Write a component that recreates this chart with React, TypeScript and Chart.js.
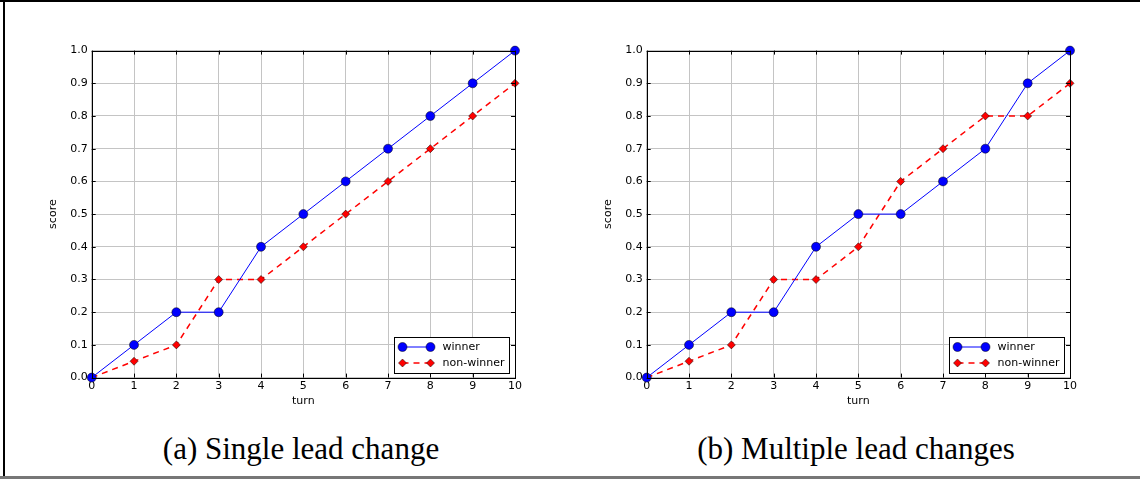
import React, { useEffect, useRef } from "react";
import { Chart, registerables } from "chart.js";

Chart.register(...registerables);

const turns = [0, 1, 2, 3, 4, 5, 6, 7, 8, 9, 10];
const winnerA = [0, 0.1, 0.2, 0.2, 0.4, 0.5, 0.6, 0.7, 0.8, 0.9, 1.0];
const nonWinnerA = [0, 0.05, 0.1, 0.3, 0.3, 0.4, 0.5, 0.6, 0.7, 0.8, 0.9];
const winnerB = [0, 0.1, 0.2, 0.2, 0.4, 0.5, 0.5, 0.6, 0.7, 0.9, 1.0];
const nonWinnerB = [0, 0.05, 0.1, 0.3, 0.3, 0.4, 0.6, 0.7, 0.8, 0.8, 0.9];
const seriesLabels = ["winner", "non-winner"];
const captionA = "(a) Single lead change";
const captionB = "(b) Multiple lead changes";
const xTitle = "turn";
const yTitle = "score";

const FONT = "'DejaVu Sans', sans-serif";

const framePlugin = {
  id: "frameAndLegend",
  afterDatasetsDraw(chart: any) {
    const { ctx, chartArea } = chart;
    const { left, right, top, bottom } = chartArea;
    const xs = chart.scales.x;
    const ys = chart.scales.y;
    ctx.save();
    ctx.strokeStyle = "#000";
    ctx.lineWidth = 1;
    ctx.beginPath();
    xs.ticks.forEach((t: any) => {
      const px = Math.round(xs.getPixelForValue(t.value)) + 0.5;
      ctx.moveTo(px, bottom);
      ctx.lineTo(px, bottom - 4);
      ctx.moveTo(px, top);
      ctx.lineTo(px, top + 4);
    });
    ys.ticks.forEach((t: any) => {
      const py = Math.round(ys.getPixelForValue(t.value)) + 0.5;
      ctx.moveTo(left, py);
      ctx.lineTo(left + 4, py);
      ctx.moveTo(right, py);
      ctx.lineTo(right - 4, py);
    });
    ctx.stroke();
    ctx.strokeRect(Math.round(left) + 0.5, Math.round(top) + 0.5, Math.round(right - left), Math.round(bottom - top));
    ctx.restore();
  },
  afterDraw(chart: any) {
    const { ctx, chartArea } = chart;
    const boxW = 115;
    const boxH = 36;
    const bx = Math.round(chartArea.right - 6 - boxW) + 0.5;
    const by = Math.round(chartArea.bottom - 5 - boxH) + 0.5;
    ctx.save();
    ctx.fillStyle = "#fff";
    ctx.fillRect(bx, by, boxW, boxH);
    ctx.strokeStyle = "#000";
    ctx.lineWidth = 1;
    ctx.strokeRect(bx, by, boxW, boxH);
    chart.data.datasets.forEach((ds: any, i: number) => {
      const y = by + 9.5 + i * 16;
      const x0 = bx + 8;
      const x1 = bx + 36;
      ctx.save();
      ctx.strokeStyle = ds.borderColor;
      ctx.lineWidth = ds.borderWidth;
      ctx.setLineDash(ds.borderDash || []);
      ctx.beginPath();
      ctx.moveTo(x0, y);
      ctx.lineTo(x1, y);
      ctx.stroke();
      ctx.restore();
      [x0, x1].forEach((mx) => {
        ctx.beginPath();
        const r = ds.pointRadius;
        if (ds.pointStyle === "rectRot") {
          ctx.moveTo(mx, y - r);
          ctx.lineTo(mx + r, y);
          ctx.lineTo(mx, y + r);
          ctx.lineTo(mx - r, y);
          ctx.closePath();
        } else {
          ctx.arc(mx, y, r, 0, Math.PI * 2);
        }
        ctx.fillStyle = ds.pointBackgroundColor;
        ctx.fill();
        ctx.strokeStyle = ds.pointBorderColor;
        ctx.lineWidth = ds.pointBorderWidth;
        ctx.stroke();
      });
      ctx.fillStyle = "#000";
      ctx.font = `11px ${FONT}`;
      ctx.textBaseline = "middle";
      ctx.textAlign = "left";
      ctx.fillText(ds.label, bx + 48, y);
    });
    ctx.restore();
  },
};

function ScoreChart({ winner, nonWinner }: { winner: number[]; nonWinner: number[] }) {
  const ref = useRef<HTMLCanvasElement>(null);
  useEffect(() => {
    if (!ref.current) return;
    const chart = new Chart(ref.current, {
      type: "line",
      data: {
        datasets: [
          {
            label: seriesLabels[0],
            data: turns.map((t, i) => ({ x: t, y: winner[i] })),
            borderColor: "#0000ff",
            borderWidth: 1,
            pointStyle: "circle",
            pointRadius: 4.5,
            pointBackgroundColor: "#0000ff",
            pointBorderColor: "#000",
            pointBorderWidth: 0.5,
            clip: false,
          } as any,
          {
            label: seriesLabels[1],
            data: turns.map((t, i) => ({ x: t, y: nonWinner[i] })),
            borderColor: "#ff0000",
            borderWidth: 1.5,
            borderDash: [6, 5],
            pointStyle: "rectRot",
            pointRadius: 4,
            pointBackgroundColor: "#ff0000",
            pointBorderColor: "#000",
            pointBorderWidth: 0.5,
            clip: false,
          } as any,
        ],
      },
      options: {
        animation: false,
        responsive: false,
        layout: { padding: { top: 3, right: 10, left: 0, bottom: 0 } },
        plugins: { legend: { display: false }, tooltip: { enabled: false } },
        scales: {
          x: {
            type: "linear",
            min: 0,
            max: 10,
            ticks: { stepSize: 1, color: "#000", font: { family: FONT, size: 11 }, padding: 2 },
            grid: { color: "#c4c4c4", drawTicks: false },
            border: { display: false },
            title: { display: true, text: xTitle, color: "#000", font: { family: FONT, size: 11 }, padding: { top: 0, bottom: 2 } },
          },
          y: {
            type: "linear",
            min: 0,
            max: 1,
            ticks: {
              stepSize: 0.1,
              color: "#000",
              font: { family: FONT, size: 11 },
              padding: 4,
              callback: (v: any) => Number(v).toFixed(1),
            },
            grid: { color: "#c4c4c4", drawTicks: false },
            border: { display: false },
            title: { display: true, text: yTitle, color: "#000", font: { family: FONT, size: 11 }, padding: { top: 2, bottom: 6 } },
          },
        },
      },
      plugins: [framePlugin],
    });
    return () => chart.destroy();
  }, [winner, nonWinner]);
  return <canvas ref={ref} width={480} height={370} style={{ display: "block", width: 480, height: 370 }} />;
}

const captionStyle: React.CSSProperties = {
  position: "absolute",
  top: 430,
  fontFamily: "'Liberation Serif', 'DejaVu Serif', serif",
  fontSize: 31,
  color: "#000",
  textAlign: "center",
  width: 500,
  lineHeight: "38px",
};

export default function App() {
  useEffect(() => {
    document.body.style.margin = "0";
  }, []);
  return (
    <div style={{ position: "relative", width: 1140, height: 480, background: "#fff", overflow: "hidden" }}>
      <div style={{ position: "absolute", left: 0, top: 0, width: 1140, height: 2, background: "#000" }} />
      <div style={{ position: "absolute", left: 3, top: 0, width: 2, height: 478, background: "#000" }} />
      <div style={{ position: "absolute", left: 0, top: 476, width: 1140, height: 3, background: "#777" }} />
      <div style={{ position: "absolute", left: 45, top: 40 }}>
        <ScoreChart winner={winnerA} nonWinner={nonWinnerA} />
      </div>
      <div style={{ position: "absolute", left: 600, top: 40 }}>
        <ScoreChart winner={winnerB} nonWinner={nonWinnerB} />
      </div>
      <div style={{ ...captionStyle, left: 51 }}>{captionA}</div>
      <div style={{ ...captionStyle, left: 606 }}>{captionB}</div>
    </div>
  );
}
